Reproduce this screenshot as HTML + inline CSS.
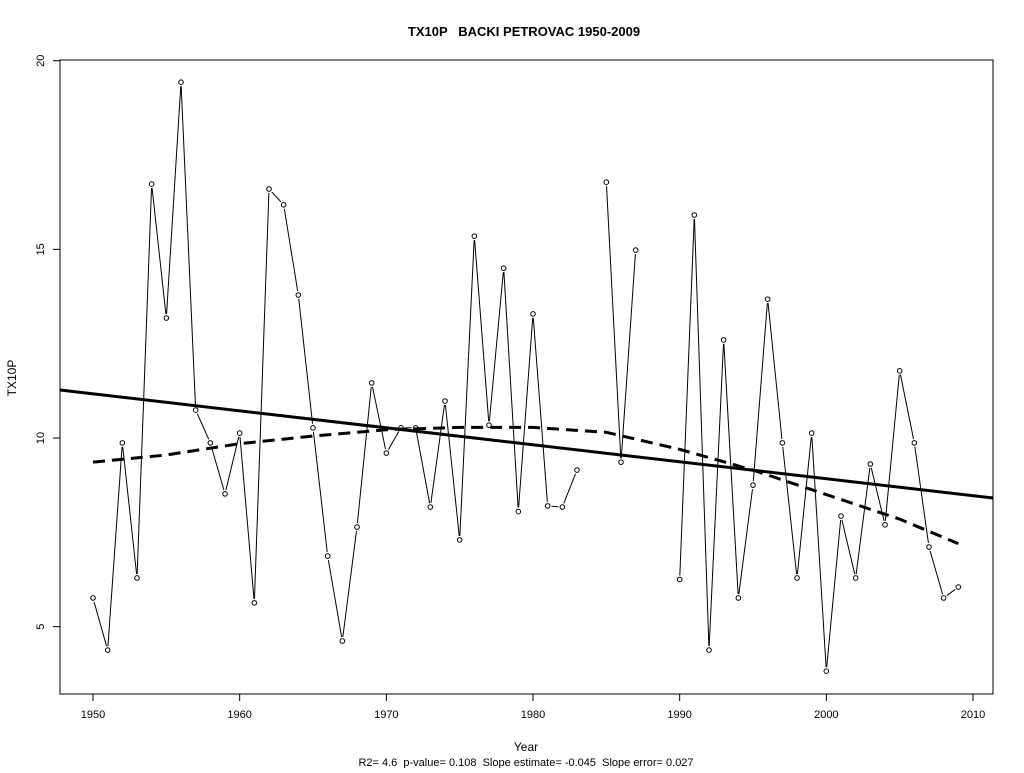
<!DOCTYPE html>
<html><head><meta charset="utf-8"><style>
html,body{margin:0;padding:0;background:#fff;}
svg text{font-family:"Liberation Sans",Arial,sans-serif;}
</style></head><body>
<svg id="chart" width="1024" height="768" xmlns="http://www.w3.org/2000/svg">
<rect width="1024" height="768" fill="#fff"/>
<text x="524" y="36" text-anchor="middle" font-size="13" font-weight="bold" xml:space="preserve">TX10P   BACKI PETROVAC 1950-2009</text>
<rect x="60" y="60" width="933" height="634" fill="none" stroke="#000" stroke-width="1"/>
<text transform="translate(16,378) rotate(-90)" text-anchor="middle" font-size="12">TX10P</text>
<text x="526" y="751" text-anchor="middle" font-size="12">Year</text>
<text x="526" y="766" text-anchor="middle" font-size="11" xml:space="preserve">R2= 4.6  p-value= 0.108  Slope estimate= -0.045  Slope error= 0.027</text>
<g id="axes"></g><g id="series"></g>
</svg>
<script>
const years=[];for(let y=1950;y<=2009;y++)years.push(y);
const values=[5.76,4.38,9.87,6.29,16.73,13.18,19.43,10.74,9.87,8.52,10.13,5.63,16.6,16.18,13.79,10.27,6.87,4.62,7.64,11.46,9.6,10.27,10.27,8.17,10.98,7.3,15.35,10.34,14.5,8.05,13.29,8.2,8.17,9.15,null,16.78,9.36,14.98,null,null,6.25,15.91,4.38,12.6,5.76,8.75,13.68,9.87,6.29,10.13,3.82,7.93,6.29,9.31,7.7,11.78,9.87,7.11,5.76,6.05];
const smoothYears=[1950,1955,1960,1965,1970,1975,1980,1985,1990,1995,2000,2005,2009];
const smoothVals=[9.36,9.55,9.85,10.05,10.22,10.28,10.28,10.15,9.7,9.15,8.5,7.85,7.2];
const trendIntercept=11.17, trendSlope=-0.045;
const xTicks=[1950,1960,1970,1980,1990,2000,2010];
const yTicks=[5,10,15,20];
const X=y=>93+(y-1950)*880/60;
const Y=v=>438-(v-10)*37.73;
const NS="http://www.w3.org/2000/svg";
const ax=document.getElementById('axes'),se=document.getElementById('series');
function mk(t,a,p){const e=document.createElementNS(NS,t);for(const k in a)e.setAttribute(k,a[k]);p.appendChild(e);return e;}
xTicks.forEach(t=>{
 const l=mk('line',{x1:X(t),x2:X(t),y1:694,y2:701,stroke:'#000'},ax);
 
 
 const tx=mk('text',{x:X(t),y:718,'text-anchor':'middle','font-size':11},ax);tx.textContent=t;
 
 
});
yTicks.forEach(t=>{
 const l=mk('line',{x1:53,x2:60,y1:Y(t),y2:Y(t),stroke:'#000'},ax);
 
 
 const tx=mk('text',{transform:`translate(44,${Y(t)}) rotate(-90)`,'text-anchor':'middle','font-size':11},ax);tx.textContent=t;
 
 
});
// series lines with gaps near points
for(let i=0;i<years.length-1;i++){
 if(values[i]==null||values[i+1]==null)continue;
 const x1=X(years[i]),y1=Y(values[i]),x2=X(years[i+1]),y2=Y(values[i+1]);
 const d=Math.hypot(x2-x1,y2-y1);if(d<9)continue;
 const ux=(x2-x1)/d,uy=(y2-y1)/d;
 const l=mk('line',{x1:x1+ux*4,y1:y1+uy*4,x2:x2-ux*4,y2:y2-uy*4,stroke:'#000','stroke-width':1},se);
 
 
}
years.forEach((y,i)=>{if(values[i]==null)return;
 const c=mk('circle',{cx:X(y),cy:Y(values[i]),r:2.3,fill:'#fff',stroke:'#000','stroke-width':1},se);
 
 
});
const tl=mk('line',{x1:60,y1:Y(trendIntercept+trendSlope*((60-93)*60/880)),x2:993,y2:Y(trendIntercept+trendSlope*((993-93)*60/880)),stroke:'#000','stroke-width':3},se);


const sp=mk('polyline',{points:smoothYears.map((y,i)=>X(y)+','+Y(smoothVals[i])).join(' '),fill:'none',stroke:'#000','stroke-width':3,'stroke-dasharray':'12,7'},se);


</script>
</body></html>
